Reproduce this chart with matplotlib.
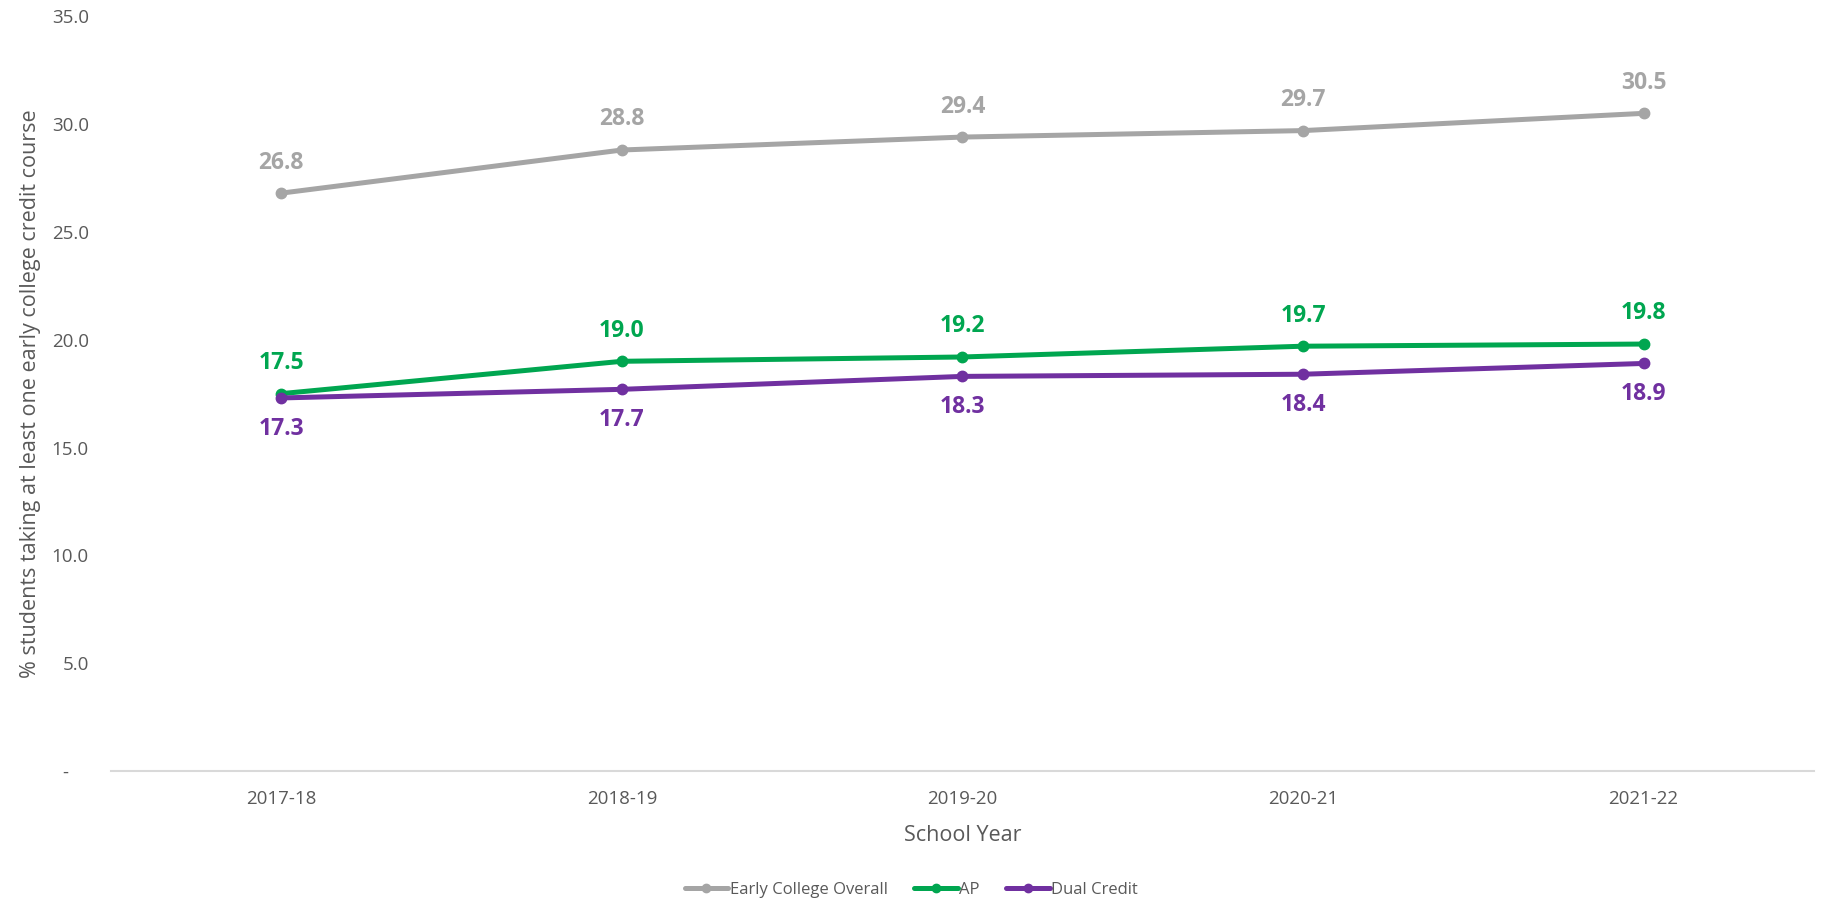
import matplotlib
matplotlib.use("Agg")
import matplotlib.pyplot as plt

plt.rcParams['font.family'] = ['Open Sans', 'DejaVu Sans']

years = ['2017-18', '2018-19', '2019-20', '2020-21', '2021-22']
overall = [26.8, 28.8, 29.4, 29.7, 30.5]
ap = [17.5, 19.0, 19.2, 19.7, 19.8]
dual = [17.3, 17.7, 18.3, 18.4, 18.9]

series = [
    ('Early College Overall', overall, '#A5A5A5', 1),
    ('AP', ap, '#00A650', 1),
    ('Dual Credit', dual, '#7030A0', -1),
]

fig = plt.figure(figsize=(18.27, 9.07), dpi=100)
ax = fig.add_axes([0.0608, 0.150, 0.932, 0.832])

x = list(range(len(years)))
for name, vals, color, side in series:
    ax.plot(x, vals, color=color, lw=3.6, marker='o', ms=7.5,
            solid_capstyle='round', label=name)
    for xi, v in zip(x, vals):
        ax.annotate(f'{v:.1f}', (xi, v), xytext=(0, 22 * side),
                    textcoords='offset points', ha='center',
                    va='center', fontsize=16.5, fontweight='bold', color=color)

ax.set_xlim(-0.5, 4.5)
ax.set_ylim(0, 35)
ax.set_xticks(x)
ax.set_xticklabels(years)
yt = [0, 5, 10, 15, 20, 25, 30, 35]
ax.set_yticks(yt)
ax.set_yticklabels(['-    '] + [f'{v:.1f}' for v in yt[1:]])
ax.tick_params(axis='both', length=0, labelsize=13.5, colors='#595959')
ax.tick_params(axis='y', pad=16)
ax.tick_params(axis='x', pad=14)

for s in ['top', 'right', 'left']:
    ax.spines[s].set_visible(False)
ax.spines['bottom'].set_color('#D9D9D9')
ax.spines['bottom'].set_linewidth(1.5)

ax.set_xlabel('School Year', fontsize=15.5, color='#595959', labelpad=12)
ax.set_ylabel('% students taking at least one early college credit course',
              fontsize=15.5, color='#595959', labelpad=8)

leg = ax.legend(loc='center', bbox_to_anchor=(0.47, -0.158), ncol=3,
                frameon=False, fontsize=12, handlelength=2.6,
                handletextpad=0.1, columnspacing=1.6, markerscale=0.8)
for t in leg.get_texts():
    t.set_color('#595959')

fig.savefig('out.png', dpi=100)
